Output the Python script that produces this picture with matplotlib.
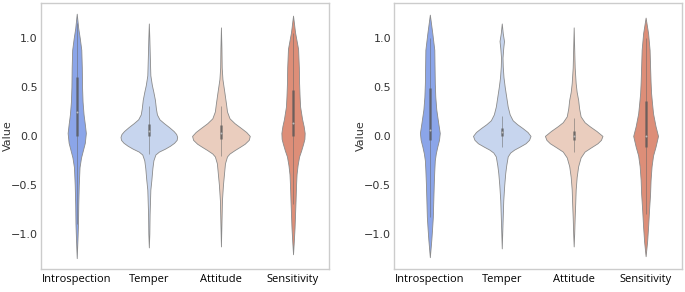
import matplotlib
matplotlib.use("Agg")
import matplotlib.pyplot as plt
import numpy as np
import seaborn as sns

categories = ["Introspection", "Temper", "Attitude", "Sensitivity"]
yticks = [-1.0, -0.5, 0.0, 0.5, 1.0]

# density profiles: value levels and relative density
left_y = [
    [1.25, 1.1, 1.0, 0.88, 0.7, 0.5, 0.35, 0.22, 0.12, 0.03, -0.07, -0.15, -0.22, -0.32, -0.5, -0.7, -0.9, -1.05, -1.25],
    [1.15, 1.0, 0.8, 0.62, 0.52, 0.45, 0.37, 0.28, 0.22, 0.17, 0.13, 0.09, 0.05, 0.02, -0.01, -0.04, -0.07, -0.1, -0.13, -0.16, -0.19, -0.25, -0.33, -0.45, -0.55, -0.8, -1.0, -1.14],
    [1.11, 0.9, 0.7, 0.58, 0.44, 0.33, 0.25, 0.18, 0.13, 0.08, 0.04, 0.0, -0.04, -0.08, -0.11, -0.145, -0.18, -0.21, -0.28, -0.39, -0.5, -0.66, -0.9, -1.13],
    [1.23, 1.06, 0.89, 0.7, 0.54, 0.4, 0.3, 0.17, 0.1, 0.03, -0.03, -0.08, -0.15, -0.21, -0.3, -0.39, -0.5, -0.66, -0.8, -0.94, -1.08, -1.21],
]
left_dens = [
    [0, 3, 6, 9, 10, 10.5, 11.5, 13.5, 16, 18, 16, 12, 8.5, 5.5, 4, 3, 2.5, 1.5, 0],
    [0, 1, 2, 3, 6, 9, 12, 14, 16, 21, 30, 40, 49, 54, 56, 55, 50, 42, 32, 20, 13, 9, 7, 5, 3, 1.5, 1, 0],
    [0, 1, 1.5, 3, 7, 10, 12, 17, 27, 40, 50, 57, 55, 47, 38, 27, 17, 12, 8, 6, 4, 2, 1, 0],
    [0, 4, 10, 11.5, 12, 13, 14, 18, 21, 23, 22.5, 20, 16, 12, 9, 7, 6, 5, 4, 3, 1.5, 0],
]
right_y = [
    [1.24, 1.05, 0.88, 0.7, 0.54, 0.4, 0.27, 0.13, 0.03, -0.04, -0.11, -0.18, -0.25, -0.35, -0.48, -0.65, -0.83, -0.95, -1.06, -1.24],
    [1.15, 1.05, 0.97, 0.9, 0.8, 0.71, 0.6, 0.5, 0.4, 0.3, 0.22, 0.16, 0.12, 0.08, 0.04, 0.0, -0.04, -0.075, -0.11, -0.14, -0.17, -0.21, -0.3, -0.38, -0.5, -0.66, -0.9, -1.15],
    [1.11, 0.9, 0.7, 0.54, 0.45, 0.37, 0.28, 0.2, 0.14, 0.1, 0.05, 0.0, -0.04, -0.075, -0.12, -0.16, -0.22, -0.31, -0.42, -0.55, -0.7, -0.83, -1.0, -1.13],
    [1.21, 1.05, 0.88, 0.71, 0.55, 0.44, 0.33, 0.23, 0.1, 0.0, -0.11, -0.2, -0.31, -0.45, -0.59, -0.75, -0.93, -1.08, -1.23],
]
right_dens = [
    [0, 5, 9, 9.5, 10, 11, 13, 17, 20, 18.5, 15, 12, 10, 9, 8, 7, 6, 4.5, 3, 0],
    [0, 2, 4.5, 3, 1.5, 2, 3.5, 6, 9, 12, 16, 22, 31, 42, 52, 58, 55, 48, 36, 25, 17, 12, 9, 7, 5, 3, 1.5, 0],
    [0, 1, 2, 4, 6, 9, 11, 14, 22, 32, 46, 58, 55, 48, 34, 22, 14, 9, 6, 4, 3, 2, 1, 0],
    [0, 5, 8, 9, 10, 11, 13, 15, 20, 25, 20, 15, 12, 10, 9, 7, 5, 3, 0],
]

# box stats: q1, median, q3, lower whisker, upper whisker
left_q1 = [0.0, 0.0, -0.03, 0.0]
left_med = [0.24, 0.05, 0.03, 0.13]
left_q3 = [0.6, 0.12, 0.11, 0.47]
left_lo = [-0.9, -0.18, -0.21, -0.7]
left_hi = [1.15, 0.31, 0.31, 1.05]

right_q1 = [-0.04, 0.0, -0.04, -0.11]
right_med = [0.06, 0.04, 0.0, 0.0]
right_q3 = [0.49, 0.08, 0.05, 0.36]
right_lo = [-0.83, -0.11, -0.16, -0.8]
right_hi = [1.0, 0.2, 0.18, 1.0]

colors = [sns.desaturate(c, 0.75) for c in sns.color_palette("coolwarm", 4)]


def draw(ax, ys, dens, q1, med, q3, lo, hi):
    pos = np.arange(len(categories))
    gmax = max(max(d) for d in dens)
    stats = []
    for y, d in zip(ys, dens):
        stats.append({"coords": np.array(y), "vals": np.array(d, dtype=float),
                      "mean": 0, "median": 0, "min": min(y), "max": max(y)})
    widths = [0.8 * max(d) / gmax for d in dens]
    parts = ax.violin(stats, positions=pos, widths=widths,
                      showmeans=False, showextrema=False, showmedians=False)
    for body, c in zip(parts["bodies"], colors):
        body.set_facecolor(c)
        body.set_edgecolor("#8a8a8a")
        body.set_linewidth(0.6)
        body.set_alpha(1)
    ax.vlines(pos, lo, hi, color="#666666", lw=0.6, alpha=0.6, zorder=3)
    ax.vlines(pos, q1, q3, color="#555555", lw=1.8, alpha=0.7, zorder=3)
    ax.scatter(pos, med, s=2, color="#bbbbbb", zorder=4, linewidths=0)

    ax.set_xlim(-0.5, 3.5)
    ax.set_ylim(-1.36, 1.36)
    ax.set_xticks(pos)
    ax.set_xticklabels(categories, fontsize=8, family="Open Sans", color="black")
    ax.set_yticks(yticks)
    ax.tick_params(axis="y", labelsize=8, labelcolor="#333333", length=0, pad=2)
    ax.tick_params(axis="x", length=0, pad=4)
    ax.set_ylabel("Value", fontsize=8, color="#333333")
    ax.yaxis.set_label_coords(-0.096, 0.5)
    for s in ax.spines.values():
        s.set_color("#cccccc")
        s.set_linewidth(1.0)


fig = plt.figure(figsize=(6.85, 2.92), dpi=100)
ax1 = fig.add_axes([0.0594, 0.079, 0.421, 0.911])
ax2 = fig.add_axes([0.575, 0.079, 0.420, 0.911])
draw(ax1, left_y, left_dens, left_q1, left_med, left_q3, left_lo, left_hi)
draw(ax2, right_y, right_dens, right_q1, right_med, right_q3, right_lo, right_hi)

fig.savefig("out.png", dpi=100)
